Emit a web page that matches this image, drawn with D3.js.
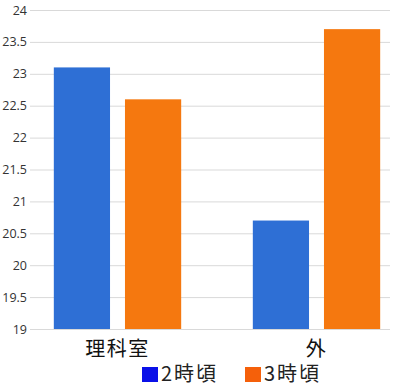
<!DOCTYPE html>
<html>
<head>
<meta charset="utf-8">
<script src="https://cdn.jsdelivr.net/npm/d3@7"></script>
<style>
    body { margin: 0; background: #fff; }
    svg { display: block; }
</style>
</head>
<body>
<svg id="chart"></svg>
<script>
const width = 400;
const height = 389;
const categories = ["理科室", "外"];
const series = ["2時頃", "3時頃"];
const values2 = [23.1, 20.7];
const values3 = [22.6, 23.7];
const yTicks = [19, 19.5, 20, 20.5, 21, 21.5, 22, 22.5, 23, 23.5, 24];
const barColors = ["#2e6fd5", "#f5780f"];
const legendColors = ["#0a10e8", "#f5600a"];
const font = "'Noto Sans CJK JP', 'Noto Sans', sans-serif";

const svg = d3.select("#chart")
    .attr("width", width)
    .attr("height", height);

const y = d3.scaleLinear().domain([19, 24]).range([329, 10]);
const x0 = d3.scaleBand().domain(categories).range([18, 416])
    .paddingInner(0.36).paddingOuter(0.18);
const x1 = d3.scaleBand().domain(series).range([0, x0.bandwidth()])
    .paddingInner(0.21).paddingOuter(0);
const color = d3.scaleOrdinal().domain(series).range(barColors);

// grid + y labels
const yAxis = d3.axisLeft(y).tickValues(yTicks).tickFormat(d => String(d))
    .tickSize(-360).tickPadding(3);
const gy = svg.append("g")
    .attr("transform", "translate(30,0)")
    .call(yAxis);
gy.select(".domain").remove();
gy.selectAll(".tick line").attr("stroke", "#d9d9d9").attr("stroke-width", 1);
gy.selectAll(".tick text")
    .attr("font-family", "'Open Sans', sans-serif")
    .attr("font-size", 12.5)
    .attr("fill", "#333");

// bars
const rows = categories.map((c, i) => ({ cat: c, vals: [values2[i], values3[i]] }));
svg.append("g").selectAll("g").data(rows).enter()
    .append("g")
    .attr("transform", d => "translate(" + x0(d.cat) + ",0)")
    .selectAll("rect")
    .data(d => series.map((s, j) => ({ s: s, v: d.vals[j] })))
    .enter().append("rect")
    .attr("x", d => x1(d.s))
    .attr("width", x1.bandwidth())
    .attr("y", d => y(d.v))
    .attr("height", d => y(19) - y(d.v))
    .attr("fill", d => color(d.s));

// category labels
svg.append("g").selectAll("text").data(categories).enter()
    .append("text")
    .attr("x", d => x0(d) + x0.bandwidth() / 2)
    .attr("y", 356)
    .attr("text-anchor", "middle")
    .attr("font-family", font)
    .attr("font-size", 20)
    .attr("letter-spacing", 1.5)
    .attr("fill", "#111")
    .text(d => d);

// legend
const legendX = [142, 245];
const legend = svg.append("g");
legend.selectAll("rect").data(series).enter()
    .append("rect")
    .attr("x", (d, i) => legendX[i])
    .attr("y", 367)
    .attr("width", 16)
    .attr("height", 15)
    .attr("fill", (d, i) => legendColors[i]);
legend.selectAll("text").data(series).enter()
    .append("text")
    .attr("x", (d, i) => legendX[i] + 19)
    .attr("y", 381)
    .attr("font-family", font)
    .attr("font-size", 20)
    .attr("letter-spacing", 2)
    .attr("fill", "#222")
    .text(d => d);
</script>
</body>
</html>
